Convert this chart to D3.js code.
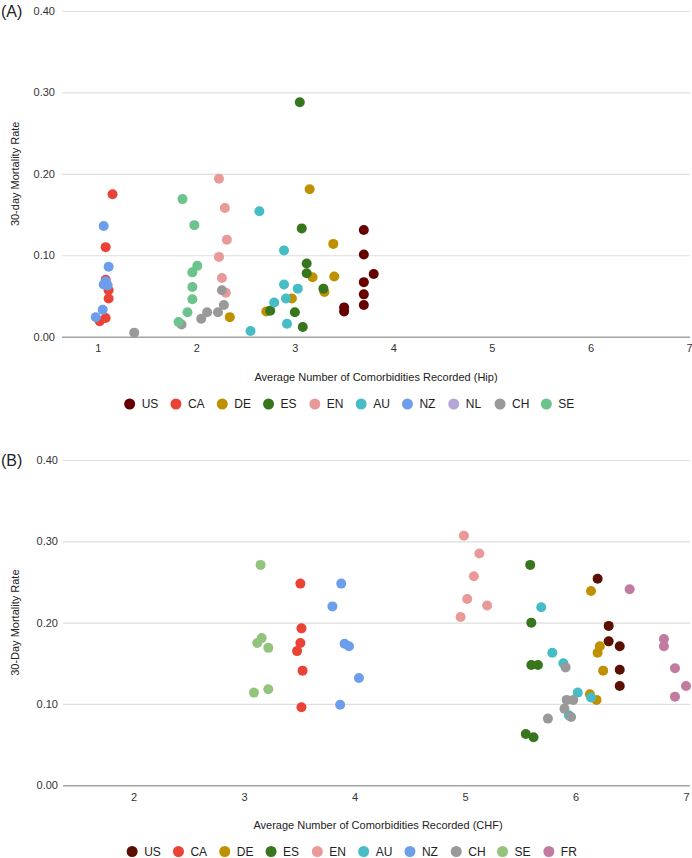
<!DOCTYPE html>
<html>
<head>
<meta charset="utf-8">
<script src="https://cdn.jsdelivr.net/npm/d3@7/dist/d3.min.js"></script>
<style>
  html, body { margin: 0; padding: 0; background: #fff; }
  svg { display: block; font-family: "Liberation Sans", Arial, sans-serif; }
</style>
</head>
<body>
<svg id="chart" width="692" height="858"></svg>
<script>
// ---------------- DATA ----------------
// Panel A (Hip): [average comorbidities, 30-day mortality]
const hipCategories = ["US","CA","DE","ES","EN","AU","NZ","NL","CH","SE"];
const hipColors = ["#660000","#ea4335","#bf9000","#38761d","#ea9999","#46bdc6","#6d9eeb","#b4a7d6","#999999","#6cc38b"];
const hipUS = [[3.70,0.131],[3.70,0.101],[3.80,0.077],[3.70,0.067],[3.70,0.052],[3.70,0.039],[3.50,0.036],[3.50,0.031]];
const hipCA = [[1.15,0.175],[1.08,0.110],[1.08,0.070],[1.11,0.057],[1.11,0.047],[1.08,0.023],[1.02,0.019]];
const hipDE = [[2.34,0.024],[2.71,0.031],[2.97,0.047],[3.15,0.181],[3.18,0.073],[3.30,0.055],[3.39,0.114],[3.40,0.074]];
const hipES = [[3.05,0.288],[3.07,0.133],[3.12,0.090],[3.12,0.078],[3.29,0.059],[2.75,0.032],[3.00,0.030],[3.08,0.012]];
const hipEN = [[2.23,0.194],[2.29,0.158],[2.31,0.119],[2.23,0.098],[2.26,0.072],[2.30,0.054]];
const hipAU = [[2.64,0.154],[2.89,0.106],[2.89,0.064],[3.03,0.059],[2.91,0.047],[2.79,0.042],[2.92,0.016],[2.55,0.007]];
const hipNZ = [[1.06,0.136],[1.11,0.086],[1.08,0.068],[1.06,0.064],[1.10,0.063],[1.05,0.033],[0.98,0.024]];
const hipNL = [];
const hipCH = [[1.37,0.005],[1.85,0.015],[2.05,0.022],[2.11,0.030],[2.22,0.030],[2.28,0.039],[2.26,0.057]];
const hipSE = [[1.86,0.169],[1.98,0.137],[2.01,0.087],[1.96,0.079],[1.96,0.061],[1.96,0.046],[1.91,0.030],[1.82,0.018]];
const hipXTicks = [1,2,3,4,5,6,7];

// Panel B (CHF)
const chfCategories = ["US","CA","DE","ES","EN","AU","NZ","CH","SE","FR"];
const chfColors = ["#5b0f00","#ea4335","#bf9000","#38761d","#ea9999","#46bdc6","#6d9eeb","#999999","#93c47d","#c27ba0"];
const chfUS = [[6.20,0.254],[6.30,0.196],[6.30,0.177],[6.40,0.171],[6.40,0.142],[6.40,0.122]];
const chfCA = [[3.51,0.248],[3.52,0.193],[3.51,0.175],[3.48,0.165],[3.53,0.141],[3.52,0.096]];
const chfDE = [[6.14,0.239],[6.22,0.171],[6.20,0.163],[6.25,0.141],[6.13,0.112],[6.19,0.105]];
const chfES = [[5.59,0.271],[5.60,0.200],[5.60,0.148],[5.66,0.148],[5.55,0.063],[5.62,0.059]];
const chfEN = [[4.99,0.307],[5.13,0.285],[5.08,0.257],[5.02,0.229],[5.20,0.221],[4.96,0.207]];
const chfAU = [[5.69,0.219],[5.79,0.163],[5.89,0.150],[5.94,0.086],[6.02,0.114],[6.14,0.108]];
const chfNZ = [[3.88,0.248],[3.80,0.220],[3.91,0.174],[3.95,0.171],[4.04,0.132],[3.87,0.099]];
const chfCH = [[5.91,0.145],[5.75,0.082],[5.90,0.094],[5.92,0.105],[5.98,0.105],[5.96,0.084]];
const chfSE = [[3.15,0.271],[3.16,0.181],[3.12,0.175],[3.22,0.169],[3.09,0.114],[3.22,0.118]];
const chfFR = [[6.49,0.241],[6.80,0.180],[6.80,0.171],[6.90,0.144],[7.00,0.122],[6.90,0.109]];
const chfXTicks = [2,3,4,5,6,7];

const yTicks = [0, 0.1, 0.2, 0.3, 0.4];

// ---------------- DRAW ----------------
const svg = d3.select("#chart");

function drawPanel(cfg) {
  const g = svg.append("g");
  const x = d3.scaleLinear().domain(cfg.xDomain).range([cfg.left, cfg.right]);
  const y = d3.scaleLinear().domain([0, 0.4]).range([cfg.bottom, cfg.top]);

  // y axis + gridlines
  const yAxis = g.append("g")
    .attr("transform", `translate(${cfg.left},0)`)
    .call(d3.axisLeft(y).tickValues(yTicks).tickFormat(d3.format(".2f"))
      .tickSize(-(cfg.right - cfg.left)).tickPadding(cfg.yPad));
  yAxis.select(".domain").remove();
  yAxis.selectAll(".tick line").attr("stroke", "#dedede").attr("stroke-width", 1.2)
    .filter(d => d === 0).attr("stroke", "#a3a3a3").attr("stroke-width", 1.6);
  yAxis.selectAll(".tick text").attr("fill", "#333").style("font-size", "11px");

  // x axis
  const xAxis = g.append("g")
    .attr("transform", `translate(0,${cfg.bottom})`)
    .call(d3.axisBottom(x).tickValues(cfg.xTicks).tickFormat(d3.format("d"))
      .tickSize(0).tickPadding(cfg.xPad));
  xAxis.select(".domain").remove();
  xAxis.selectAll(".tick text").attr("fill", "#333").style("font-size", "11px");

  // points
  cfg.series.forEach((s, i) => {
    g.append("g").selectAll("circle").data(s).join("circle")
      .attr("cx", d => x(d[0]))
      .attr("cy", d => y(d[1]))
      .attr("r", 5)
      .attr("fill", cfg.colors[i]);
  });

  // panel label
  g.append("text").attr("x", 1).attr("y", cfg.top + 6)
    .style("font-size", "16px").attr("fill", "#222").text(cfg.panel);

  // y title
  g.append("text")
    .attr("transform", `translate(19,${(cfg.top + cfg.bottom) / 2}) rotate(-90)`)
    .attr("text-anchor", "middle").style("font-size", "11px").attr("fill", "#222")
    .text(cfg.yTitle);

  // x title
  g.append("text").attr("x", cfg.titleX).attr("y", cfg.titleY)
    .attr("text-anchor", "middle").style("font-size", "11px").attr("fill", "#222")
    .text(cfg.xTitle);

  // legend
  const n = cfg.categories.length;
  const step = 46.3;
  const start = cfg.legendCenter - step * (n - 1) / 2;
  const lg = g.append("g");
  cfg.categories.forEach((c, i) => {
    const cx = start + i * step;
    lg.append("circle").attr("cx", cx).attr("cy", cfg.legendY).attr("r", 5.5).attr("fill", cfg.colors[i]);
    lg.append("text").attr("x", cx + 12).attr("y", cfg.legendY + 4.3)
      .style("font-size", "12px").attr("fill", "#222").text(c);
  });
}

drawPanel({
  panel: "(A)",
  left: 62, right: 690, top: 11, bottom: 336.7,
  xDomain: [0.637, 7.01], xTicks: hipXTicks, xPad: 8, yPad: 7,
  categories: hipCategories, colors: hipColors,
  series: [hipUS, hipCA, hipDE, hipES, hipEN, hipAU, hipNZ, hipNL, hipCH, hipSE],
  yTitle: "30-day Mortality Rate",
  xTitle: "Average Number of Comorbidities Recorded (Hip)",
  titleX: 376, titleY: 381,
  legendCenter: 338, legendY: 404
});

drawPanel({
  panel: "(B)",
  left: 63, right: 690, top: 460, bottom: 785.3,
  xDomain: [1.362, 7.036], xTicks: chfXTicks, xPad: 8, yPad: 5,
  categories: chfCategories, colors: chfColors,
  series: [chfUS, chfCA, chfDE, chfES, chfEN, chfAU, chfNZ, chfCH, chfSE, chfFR],
  yTitle: "30-Day Mortality Rate",
  xTitle: "Average Number of Comorbidities Recorded (CHF)",
  titleX: 378, titleY: 829,
  legendCenter: 340.5, legendY: 851.5
});
</script>
</body>
</html>
